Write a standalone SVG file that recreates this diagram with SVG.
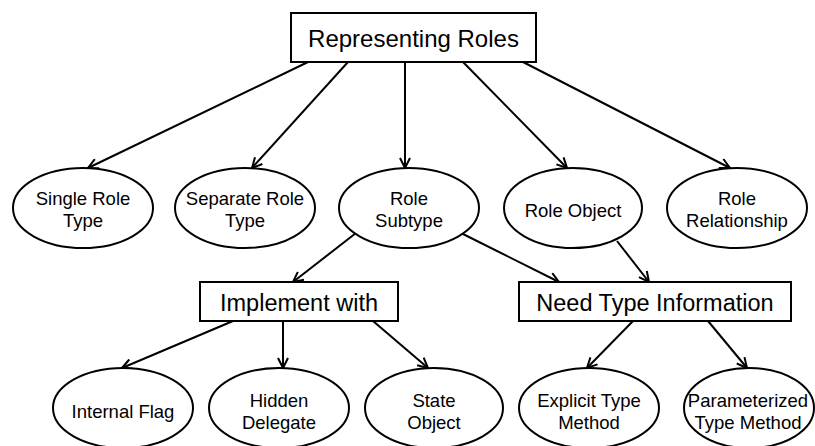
<svg xmlns="http://www.w3.org/2000/svg" width="815" height="446" viewBox="0 0 815 446">
  <defs>
    <marker id="arrow" viewBox="0 0 12 12" refX="11" refY="6" markerWidth="12" markerHeight="12" markerUnits="userSpaceOnUse" orient="auto">
      <path d="M1,1 L11,6 L1,11" fill="none" stroke="#000" stroke-width="2"/>
    </marker>
  </defs>
  <style>
    .box { fill: #fff; stroke: #000; stroke-width: 2; }
    .oval { fill: #fff; stroke: #000; stroke-width: 2; }
    .big { font-family: "Liberation Sans", Arial, sans-serif; font-size: 24px; fill: #000; text-anchor: middle; }
    .mid { font-family: "Liberation Sans", Arial, sans-serif; font-size: 23.5px; fill: #000; text-anchor: middle; }
    .lbl { font-family: "Liberation Sans", Arial, sans-serif; font-size: 18.5px; fill: #000; text-anchor: middle; }
    .edge { fill: none; stroke: #000; stroke-width: 2; marker-end: url(#arrow); }
  </style>
  <rect width="815" height="446" fill="#fff"/>

  <g id="connectors">
    <line class="edge" x1="308" y1="62" x2="88" y2="168"/>
    <line class="edge" x1="348" y1="62" x2="252" y2="168"/>
    <line class="edge" x1="405" y1="62" x2="405" y2="168"/>
    <line class="edge" x1="463" y1="62" x2="567" y2="168"/>
    <line class="edge" x1="523" y1="62" x2="730" y2="168"/>
    <line class="edge" x1="356" y1="233" x2="293" y2="282"/>
    <line class="edge" x1="463" y1="234" x2="559" y2="282"/>
    <line class="edge" x1="617" y1="241" x2="649" y2="282"/>
    <line class="edge" x1="233" y1="321" x2="122" y2="368"/>
    <line class="edge" x1="283" y1="321" x2="283" y2="368"/>
    <line class="edge" x1="373" y1="321" x2="428" y2="368"/>
    <line class="edge" x1="633" y1="321" x2="587" y2="368"/>
    <line class="edge" x1="708" y1="321" x2="747" y2="368"/>
  </g>

  <g id="representing-roles">
    <rect class="box" x="291" y="13" width="245" height="49"/>
    <text class="big" x="413.5" y="47">Representing Roles</text>
  </g>

  <g id="single-role-type">
    <ellipse class="oval" cx="83" cy="208" rx="70" ry="40"/>
    <text class="lbl" x="83" y="205">Single Role</text>
    <text class="lbl" x="83" y="227">Type</text>
  </g>
  <g id="separate-role-type">
    <ellipse class="oval" cx="245" cy="208" rx="70" ry="40"/>
    <text class="lbl" x="245" y="205">Separate Role</text>
    <text class="lbl" x="245" y="227">Type</text>
  </g>
  <g id="role-subtype">
    <ellipse class="oval" cx="409" cy="208" rx="70" ry="40"/>
    <text class="lbl" x="409" y="205">Role</text>
    <text class="lbl" x="409" y="227">Subtype</text>
  </g>
  <g id="role-object">
    <ellipse class="oval" cx="573" cy="208" rx="69" ry="40"/>
    <text class="lbl" x="573" y="217">Role Object</text>
  </g>
  <g id="role-relationship">
    <ellipse class="oval" cx="737" cy="208" rx="70" ry="40"/>
    <text class="lbl" x="737" y="205">Role</text>
    <text class="lbl" x="737" y="227">Relationship</text>
  </g>

  <g id="implement-with">
    <rect class="box" x="200" y="282" width="198" height="39"/>
    <text class="mid" x="299" y="311">Implement with</text>
  </g>
  <g id="need-type-information">
    <rect class="box" x="519" y="282" width="272" height="39"/>
    <text class="mid" x="655" y="311">Need Type Information</text>
  </g>

  <g id="internal-flag">
    <ellipse class="oval" cx="123" cy="408" rx="70" ry="40"/>
    <text class="lbl" x="123" y="418">Internal Flag</text>
  </g>
  <g id="hidden-delegate">
    <ellipse class="oval" cx="279" cy="408" rx="70" ry="40"/>
    <text class="lbl" x="279" y="407">Hidden</text>
    <text class="lbl" x="279" y="429">Delegate</text>
  </g>
  <g id="state-object">
    <ellipse class="oval" cx="434" cy="408" rx="69" ry="40"/>
    <text class="lbl" x="434" y="407">State</text>
    <text class="lbl" x="434" y="429">Object</text>
  </g>
  <g id="explicit-type-method">
    <ellipse class="oval" cx="589" cy="408" rx="70" ry="40"/>
    <text class="lbl" x="589" y="407">Explicit Type</text>
    <text class="lbl" x="589" y="429">Method</text>
  </g>
  <g id="parameterized-type-method">
    <ellipse class="oval" cx="749" cy="408" rx="65" ry="40"/>
    <text class="lbl" x="748" y="407">Parameterized</text>
    <text class="lbl" x="748" y="429">Type Method</text>
  </g>
</svg>
